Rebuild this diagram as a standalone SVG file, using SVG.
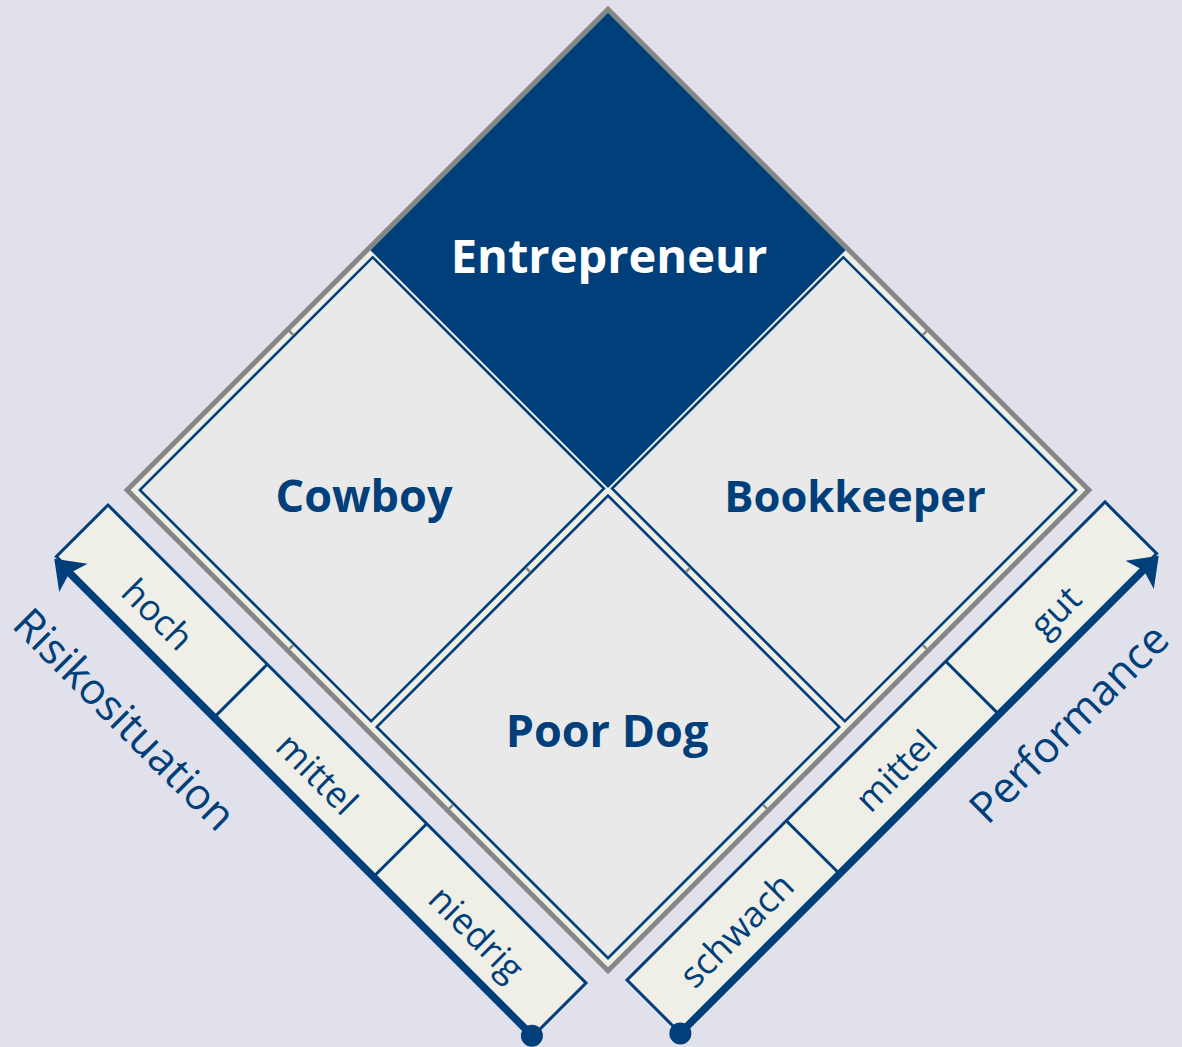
<svg xmlns="http://www.w3.org/2000/svg" width="1182" height="1047" viewBox="0 0 1182 1047">
<defs>
<style>
.bg{fill:#e1e1eb}
.frame{fill:#f0efe7;stroke:#868686;stroke-width:5}
.quad{fill:#e9e9e9;stroke:#003f7a;stroke-width:2.6}
.ent{fill:#003f7a}
.tick{stroke:#868686;stroke-width:2.5}
.cell{fill:#f0efe7;stroke:#003f7a;stroke-width:3}
.div{stroke:#003f7a;stroke-width:3}
.axis{stroke:#003f7a;stroke-width:7;fill:none}
.head{fill:#003f7a}
.lbl{font-family:"Open Sans","Noto Sans",sans-serif;font-weight:bold;font-size:45px;fill:#003f7a;text-anchor:middle}
.lblw{fill:#ffffff;font-size:47px}
.cellt{font-family:"Open Sans","Noto Sans",sans-serif;font-size:36px;fill:#003f7a;text-anchor:middle}
.axt{font-family:"Open Sans","Noto Sans",sans-serif;font-size:43px;fill:#003f7a}
</style>
</defs>
<rect class="bg" x="0" y="0" width="1182" height="1047"/>
<g id="matrix" transform="translate(608,490) rotate(45)">
  <rect class="frame" x="-340" y="-340" width="680" height="680"/>
  <g id="entrepreneur-shape"><rect class="ent" x="-337.5" y="-337.5" width="336" height="336"/></g>
  <g id="cowboy-shape"><rect class="quad" x="-331" y="1.8" width="327" height="329.2"/></g>
  <g id="bookkeeper-shape"><rect class="quad" x="1.8" y="-331" width="329.2" height="327"/></g>
  <g id="poordog-shape"><rect class="quad" x="4" y="4" width="327" height="327"/></g>
  <g id="ticks">
    <line class="tick" x1="-338" y1="113" x2="-332" y2="113"/>
    <line class="tick" x1="113" y1="-338" x2="113" y2="-332"/>
    <line class="tick" x1="-113" y1="332" x2="-113" y2="338"/>
    <line class="tick" x1="113" y1="332" x2="113" y2="338"/>
    <line class="tick" x1="332" y1="113" x2="338" y2="113"/>
    <line class="tick" x1="332" y1="-113" x2="338" y2="-113"/>
    <line class="tick" x1="-3" y1="113" x2="3" y2="113"/>
    <line class="tick" x1="113" y1="-3" x2="113" y2="3"/>
  </g>
</g>
<g id="entrepreneur"><text class="lbl lblw" x="609" y="273">Entrepreneur</text></g>
<g id="cowboy"><text class="lbl" x="364" y="512">Cowboy</text></g>
<g id="bookkeeper"><text class="lbl" x="855" y="512" style="font-size:43.5px">Bookkeeper</text></g>
<g id="poordog"><text class="lbl" x="607" y="747">Poor Dog</text></g>
<g id="risk-axis" transform="translate(108,505) rotate(45)">
  <rect class="cell" x="0" y="0" width="676" height="73"/>
  <line class="div" x1="225.3" y1="0" x2="225.3" y2="73"/>
  <line class="div" x1="450.7" y1="0" x2="450.7" y2="73"/>
  <text class="cellt" x="112.6" y="55">hoch</text>
  <text class="cellt" x="338" y="55">mittel</text>
  <text class="cellt" x="563.4" y="55">niedrig</text>
  <line class="axis" x1="20" y1="75.5" x2="675" y2="75.5"/>
  <polygon class="head" points="0,76 27,56 21,76 27,96"/>
  <circle class="head" cx="675" cy="75.5" r="11"/>
  <text class="axt" x="17" y="155">Risikosituation</text>
</g>
<g id="performance-axis" transform="translate(627,980) rotate(-45)">
  <rect class="cell" x="0" y="0" width="676" height="73"/>
  <line class="div" x1="225.3" y1="0" x2="225.3" y2="73"/>
  <line class="div" x1="450.7" y1="0" x2="450.7" y2="73"/>
  <text class="cellt" x="112.6" y="55">schwach</text>
  <text class="cellt" x="338" y="55">mittel</text>
  <text class="cellt" x="563.4" y="55">gut</text>
  <line class="axis" x1="0" y1="75.5" x2="656" y2="75.5"/>
  <polygon class="head" points="676,76 649,56 655,76 649,96"/>
  <circle class="head" cx="0" cy="75.5" r="11"/>
  <text class="axt" x="624" y="146" text-anchor="end">Performance</text>
</g>
</svg>
